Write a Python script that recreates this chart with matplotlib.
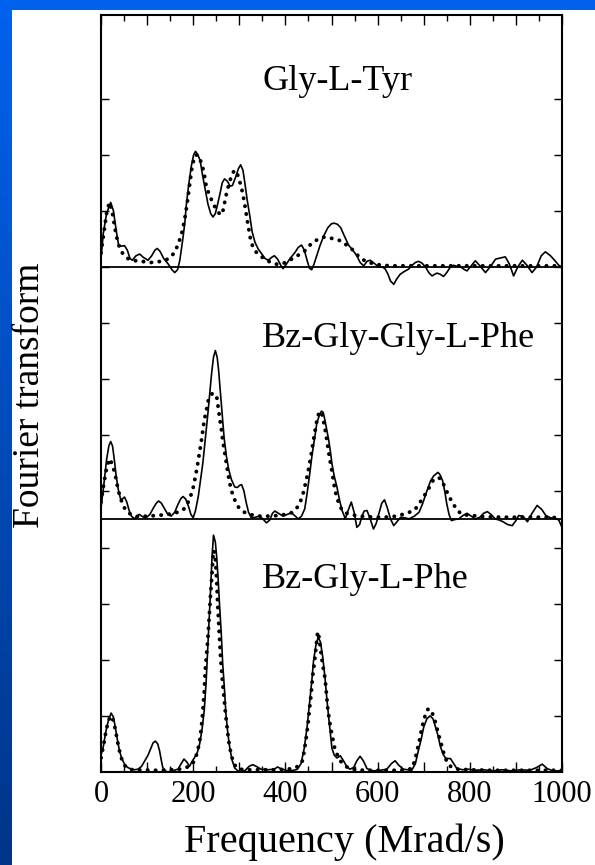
import matplotlib
matplotlib.use("Agg")
import matplotlib.pyplot as plt
import numpy as np
from matplotlib.colors import LinearSegmentedColormap
from matplotlib.patches import Rectangle
from matplotlib.ticker import MultipleLocator, FuncFormatter

plt.rcParams['font.family'] = ['Liberation Serif', 'DejaVu Serif']

# (frequency in Mrad/s, height above the trace's own baseline in tick units)
tyr_exp = [(0, 0.15), (5, 0.6), (12, 0.95), (21, 1.15), (27, 1.0), (33, 0.65), (38, 0.4), (44, 0.37),
           (51, 0.38), (57, 0.3), (63, 0.15), (68, 0.12), (76, 0.2), (84, 0.23), (92, 0.17), (102, 0.12),
           (110, 0.2), (117, 0.3), (122, 0.33), (128, 0.28), (136, 0.15), (146, 0.05), (154, -0.05),
           (160, -0.1), (166, -0.05), (171, 0.12), (175, 0.35), (178, 0.53), (182, 0.8), (185, 1.1),
           (190, 1.45), (196, 1.8), (201, 2.0), (205, 2.06), (210, 2.0), (215, 1.9), (220, 1.65),
           (226, 1.38), (232, 1.12), (238, 0.95), (243, 0.89), (248, 0.95), (253, 1.12), (258, 1.3),
           (263, 1.5), (268, 1.57), (274, 1.53), (280, 1.44), (285, 1.45), (292, 1.6), (298, 1.75),
           (303, 1.82), (308, 1.72), (312, 1.5), (317, 1.2), (323, 0.9), (328, 0.62), (334, 0.44),
           (341, 0.32), (348, 0.24), (356, 0.15), (363, 0.12), (370, 0.17), (376, 0.2), (383, 0.14),
           (390, 0.03), (395, -0.03), (402, 0.05), (410, 0.15), (420, 0.25), (428, 0.35), (435, 0.39),
           (441, 0.3), (447, 0.12), (452, -0.02), (457, -0.05), (462, 0.05), (468, 0.2), (475, 0.38),
           (483, 0.55), (492, 0.7), (500, 0.77), (506, 0.78), (513, 0.76), (520, 0.7), (528, 0.55),
           (537, 0.39), (546, 0.3), (555, 0.2), (562, 0.08), (570, 0.02), (577, 0.1), (584, 0.12),
           (592, 0.07), (602, 0.0), (610, 0.0), (616, -0.03), (622, -0.12), (628, -0.25), (635, -0.31),
           (641, -0.22), (649, -0.13), (658, -0.08), (667, -0.04), (675, 0.03), (682, 0.08), (689, 0.1),
           (696, 0.07), (704, 0.0), (711, -0.1), (718, -0.16), (724, -0.13), (729, -0.11), (736, -0.13),
           (743, -0.17), (750, -0.1), (758, 0.0), (765, 0.03), (772, 0.01), (780, 0.0), (787, -0.04),
           (794, -0.07), (803, 0.02), (812, 0.11), (822, 0.02), (834, -0.1), (844, 0.0), (856, 0.14),
           (866, 0.16), (877, 0.18), (886, 0.05), (895, -0.16), (904, 0.0), (914, 0.12), (924, 0.03),
           (935, -0.1), (945, 0.0), (955, 0.2), (964, 0.27), (975, 0.2), (986, 0.1), (993, 0.03),
           (1000, 0.0)]

tyr_sim = [(0, 0.25), (6, 0.6), (12, 0.95), (18, 1.15), (24, 1.0), (28, 0.8), (33, 0.56), (40, 0.35),
           (47, 0.24), (56, 0.16), (66, 0.12), (76, 0.11), (87, 0.1), (98, 0.09), (109, 0.08), (120, 0.09),
           (130, 0.1), (142, 0.13), (152, 0.18), (160, 0.27), (165, 0.36), (170, 0.47), (174, 0.56),
           (179, 0.75), (183, 0.92), (188, 1.2), (192, 1.45), (197, 1.75), (203, 1.98), (209, 2.0),
           (214, 1.93), (219, 1.83), (224, 1.65), (228, 1.45), (234, 1.3), (239, 1.21), (245, 1.1),
           (252, 1.0), (257, 0.95), (262, 0.93), (266, 1.05), (269, 1.19), (274, 1.37), (279, 1.52),
           (284, 1.64), (289, 1.72), (294, 1.7), (300, 1.55), (305, 1.4), (310, 1.2), (315, 0.95),
           (320, 0.7), (325, 0.46), (330, 0.35), (336, 0.27), (345, 0.2), (354, 0.15), (366, 0.09),
           (379, 0.05), (389, 0.05), (397, 0.07), (408, 0.11), (419, 0.17), (430, 0.22), (440, 0.27),
           (450, 0.36), (458, 0.43), (470, 0.49), (481, 0.53), (490, 0.53), (500, 0.51), (512, 0.49),
           (524, 0.45), (534, 0.38), (544, 0.32), (554, 0.23), (564, 0.15), (575, 0.1), (586, 0.07),
           (597, 0.05), (608, 0.03), (630, 0.02), (700, 0.02), (800, 0.02), (900, 0.02), (1000, 0.02)]

ggphe_exp = [(0, 0.2), (6, 0.6), (12, 1.05), (17, 1.3), (21, 1.38), (25, 1.3), (29, 1.05), (33, 0.76),
             (38, 0.5), (43, 0.34), (47, 0.36), (51, 0.39), (56, 0.3), (61, 0.15), (66, 0.05), (73, 0.0),
             (78, 0.05), (83, 0.08), (90, 0.04), (98, 0.02), (106, 0.08), (114, 0.2), (120, 0.28),
             (125, 0.32), (131, 0.28), (138, 0.18), (145, 0.08), (152, 0.05), (160, 0.12), (167, 0.26),
             (173, 0.36), (178, 0.4), (184, 0.35), (190, 0.22), (195, 0.08), (200, 0.02), (205, 0.15),
             (211, 0.4), (216, 0.7), (221, 1.0), (226, 1.4), (232, 1.89), (236, 2.25), (240, 2.6),
             (244, 2.88), (248, 3.0), (252, 2.88), (255, 2.66), (259, 2.25), (263, 1.83), (267, 1.45),
             (272, 1.12), (277, 0.88), (283, 0.7), (290, 0.57), (296, 0.56), (301, 0.6), (305, 0.61),
             (310, 0.5), (315, 0.29), (320, 0.12), (326, 0.02), (335, 0.03), (344, 0.05), (351, 0.0),
             (359, -0.07), (366, -0.02), (372, 0.1), (377, 0.14), (385, 0.1), (395, 0.05), (404, 0.08),
             (413, 0.11), (420, 0.06), (428, 0.0), (435, 0.05), (442, 0.18), (447, 0.45), (453, 0.82),
             (458, 1.15), (464, 1.47), (468, 1.7), (473, 1.83), (478, 1.92), (482, 1.9), (486, 1.75),
             (490, 1.58), (494, 1.4), (498, 1.18), (501, 0.98), (506, 0.76), (512, 0.56), (517, 0.35),
             (523, 0.15), (530, 0.0), (536, 0.15), (543, 0.3), (549, 0.12), (555, -0.15), (561, -0.1),
             (566, 0.05), (571, 0.14), (577, 0.15), (584, 0.0), (591, -0.18), (597, -0.08), (603, 0.1),
             (609, 0.28), (615, 0.34), (621, 0.2), (628, 0.0), (635, -0.12), (642, -0.05), (650, 0.03),
             (659, 0.02), (668, 0.0), (680, 0.05), (690, 0.12), (698, 0.28), (707, 0.5), (715, 0.68),
             (722, 0.77), (731, 0.83), (736, 0.78), (741, 0.68), (746, 0.48), (750, 0.27), (755, 0.08),
             (760, -0.03), (768, -0.01), (776, 0.0), (785, 0.06), (794, 0.1), (803, 0.05), (812, 0.0),
             (822, 0.03), (830, 0.1), (838, 0.13), (846, 0.08), (855, 0.0), (864, -0.02), (872, -0.05),
             (882, -0.1), (892, -0.12), (900, -0.03), (906, 0.06), (915, 0.05), (925, -0.05), (935, 0.1),
             (946, 0.24), (956, 0.17), (965, 0.06), (975, 0.02), (985, 0.01), (993, -0.02), (1000, -0.15)]

ggphe_sim = [(0, 0.3), (6, 0.62), (12, 0.9), (18, 1.07), (23, 1.0), (28, 0.87), (33, 0.7), (37, 0.52),
             (42, 0.38), (46, 0.28), (52, 0.18), (59, 0.11), (70, 0.06), (81, 0.04), (100, 0.05),
             (120, 0.06), (145, 0.08), (167, 0.12), (178, 0.16), (185, 0.23), (192, 0.35), (199, 0.52),
             (204, 0.72), (209, 0.94), (213, 1.15), (217, 1.35), (221, 1.58), (224, 1.76), (229, 1.95),
             (233, 2.12), (238, 2.2), (242, 2.24), (247, 2.22), (251, 2.18), (254, 2.0), (257, 1.82),
             (261, 1.6), (264, 1.4), (268, 1.2), (272, 0.99), (276, 0.78), (281, 0.57), (285, 0.45),
             (290, 0.34), (299, 0.2), (307, 0.14), (315, 0.1), (328, 0.07), (340, 0.05), (362, 0.05),
             (384, 0.06), (400, 0.08), (413, 0.11), (421, 0.16), (428, 0.23), (434, 0.34), (439, 0.47),
             (445, 0.68), (450, 0.88), (456, 1.15), (461, 1.41), (466, 1.65), (470, 1.83), (475, 1.92),
             (480, 1.85), (485, 1.65), (490, 1.4), (494, 1.18), (498, 0.98), (502, 0.8), (505, 0.63),
             (510, 0.43), (516, 0.27), (522, 0.17), (527, 0.12), (540, 0.08), (553, 0.06), (575, 0.04),
             (596, 0.03), (615, 0.03), (632, 0.04), (646, 0.06), (658, 0.09), (669, 0.12), (679, 0.15),
             (688, 0.24), (697, 0.36), (705, 0.46), (712, 0.56), (720, 0.68), (730, 0.74), (736, 0.72),
             (741, 0.65), (747, 0.55), (752, 0.45), (759, 0.34), (766, 0.24), (774, 0.15), (781, 0.09),
             (793, 0.07), (806, 0.06), (830, 0.04), (870, 0.03), (920, 0.03), (960, 0.03), (1000, 0.02)]

gphe_exp = [(0, 0.3), (5, 0.45), (10, 0.7), (16, 0.92), (22, 1.05), (27, 0.98), (31, 0.8), (35, 0.6),
            (40, 0.38), (45, 0.24), (51, 0.14), (58, 0.08), (66, 0.05), (73, 0.04), (80, 0.05), (88, 0.1),
            (95, 0.2), (102, 0.3), (108, 0.42), (113, 0.52), (118, 0.55), (123, 0.5), (127, 0.38),
            (131, 0.2), (134, 0.08), (140, 0.02), (145, 0.0), (155, 0.02), (167, 0.05), (174, 0.15),
            (180, 0.23), (186, 0.18), (192, 0.1), (197, 0.18), (203, 0.26), (209, 0.35), (214, 0.5),
            (219, 0.75), (224, 1.1), (228, 1.6), (231, 2.1), (235, 2.75), (238, 3.3), (241, 3.85),
            (244, 4.22), (248, 4.1), (251, 3.83), (254, 3.45), (257, 3.0), (261, 2.45), (264, 1.93),
            (268, 1.45), (271, 1.04), (275, 0.7), (279, 0.45), (284, 0.22), (290, 0.07), (297, 0.02),
            (304, 0.0), (313, 0.03), (321, 0.1), (329, 0.13), (337, 0.1), (347, 0.05), (362, 0.04),
            (376, 0.05), (383, 0.09), (390, 0.06), (405, 0.02), (418, 0.03), (426, 0.05), (434, 0.15),
            (441, 0.43), (447, 0.8), (452, 1.2), (457, 1.6), (461, 1.98), (466, 2.25), (471, 2.4),
            (476, 2.32), (481, 2.05), (486, 1.67), (490, 1.3), (494, 0.96), (498, 0.65), (501, 0.42),
            (506, 0.3), (512, 0.25), (519, 0.29), (526, 0.2), (533, 0.1), (540, 0.05), (548, 0.08),
            (555, 0.2), (562, 0.28), (569, 0.2), (577, 0.06), (590, 0.02), (606, 0.03), (620, 0.05),
            (630, 0.15), (638, 0.2), (646, 0.12), (656, 0.05), (674, 0.03), (682, 0.15), (689, 0.4),
            (695, 0.6), (700, 0.8), (707, 0.95), (714, 1.0), (720, 0.95), (725, 0.82), (731, 0.65),
            (736, 0.46), (742, 0.32), (747, 0.25), (752, 0.24), (758, 0.24), (765, 0.15), (772, 0.06),
            (785, 0.04), (797, 0.05), (810, 0.03), (830, 0.04), (850, 0.02), (870, 0.04), (890, 0.02),
            (910, 0.04), (930, 0.03), (945, 0.08), (957, 0.14), (968, 0.06), (980, 0.02), (1000, 0.02)]

gphe_sim = [(0, 0.25), (6, 0.5), (12, 0.78), (18, 0.95), (23, 1.0), (28, 0.88), (33, 0.67), (37, 0.5),
            (40, 0.38), (46, 0.2), (53, 0.1), (62, 0.05), (75, 0.03), (88, 0.04), (110, 0.03), (130, 0.03),
            (150, 0.04), (170, 0.05), (185, 0.08), (195, 0.12), (203, 0.2), (209, 0.35), (214, 0.55),
            (218, 0.82), (221, 1.1), (224, 1.45), (226, 1.8), (229, 2.1), (232, 2.4), (235, 2.8),
            (238, 3.2), (241, 3.55), (243, 3.85), (245, 3.95), (248, 3.8), (251, 3.4), (253, 3.0),
            (256, 2.55), (259, 2.1), (262, 1.75), (266, 1.4), (270, 1.05), (274, 0.76), (277, 0.55),
            (281, 0.37), (286, 0.2), (292, 0.1), (300, 0.05), (320, 0.04), (350, 0.04), (380, 0.04),
            (405, 0.05), (420, 0.07), (431, 0.12), (437, 0.2), (441, 0.38), (445, 0.6), (449, 0.85),
            (452, 1.1), (456, 1.4), (459, 1.7), (463, 1.95), (466, 2.18), (470, 2.5), (473, 2.4),
            (476, 2.2), (481, 1.9), (486, 1.67), (489, 1.4), (492, 1.12), (496, 0.9), (500, 0.7),
            (504, 0.55), (507, 0.42), (512, 0.32), (516, 0.24), (521, 0.18), (527, 0.13), (535, 0.08),
            (545, 0.05), (570, 0.03), (610, 0.03), (650, 0.03), (675, 0.06), (682, 0.25), (689, 0.5),
            (693, 0.65), (696, 0.8), (700, 0.9), (703, 1.0), (707, 1.1), (711, 1.13), (717, 1.08),
            (721, 1.0), (725, 0.9), (728, 0.8), (732, 0.68), (736, 0.55), (740, 0.45), (743, 0.35),
            (747, 0.26), (750, 0.18), (756, 0.12), (761, 0.08), (775, 0.05), (800, 0.04), (850, 0.03),
            (900, 0.03), (950, 0.03), (1000, 0.03)]

names = ['Gly-L-Tyr', 'Bz-Gly-Gly-L-Phe', 'Bz-Gly-L-Phe']
baselines = [9.0, 4.51, 0.0]
label_y = [12.16, 7.58, 3.28]
experiments = [tyr_exp, ggphe_exp, gphe_exp]
simulations = [tyr_sim, ggphe_sim, gphe_sim]
x_ticks = [0, 100, 200, 300, 400, 500, 600, 700, 800, 900, 1000]

fig = plt.figure(figsize=(5.95, 8.65), dpi=100)

# blue slide background with white page
bg = fig.add_axes([0, 0, 1, 1], zorder=-10)
blue = LinearSegmentedColormap.from_list('slide', ['#003588', '#0062EE'])
bg.imshow(np.linspace(0, 1, 256).reshape(-1, 1), cmap=blue, origin='lower',
          aspect='auto', extent=[0, 1, 0, 1])
bg.add_patch(Rectangle((12 / 595, 0), 1, 855 / 865, color='white', lw=0))
bg.set_xlim(0, 1)
bg.set_ylim(0, 1)
bg.axis('off')

ax = fig.add_axes([101 / 595, 93 / 865, 461 / 595, 757 / 865])
ax.set_facecolor('white')

for base, exp, sim in zip(baselines, experiments, simulations):
    ex, ey = np.array(exp).T
    sx, sy = np.array(sim).T
    if base > 0:
        ax.axhline(base, color='black', lw=1.3)
    ax.plot(ex, ey + base, color='black', lw=1.2, solid_joinstyle='round')
    ax.plot(sx, sy + base, color='black', lw=2.8, linestyle=(0, (0.05, 2.0)),
            dash_capstyle='round')

for name, ly in zip(names, label_y):
    ax.text(350, ly, name, fontsize=26, ha='left', va='baseline')

ax.set_xlim(0, 1000)
ax.set_ylim(0, 13.49)
ax.set_xticks(x_ticks)
ax.xaxis.set_major_formatter(FuncFormatter(lambda v, p: f'{int(v)}' if int(v) % 200 == 0 else ''))
ax.xaxis.set_minor_locator(MultipleLocator(50))
ax.set_yticks(np.arange(1, 13))
ax.set_yticklabels([])
ax.tick_params(which='both', direction='in', top=True, right=True, width=1.0)
ax.tick_params(axis='x', which='major', length=7, labelsize=22, pad=6)
ax.tick_params(axis='x', which='minor', length=4)
ax.tick_params(axis='y', which='major', length=5.5)
for s in ax.spines.values():
    s.set_linewidth(1.5)

ax.set_xlabel('Frequency (Mrad/s)', fontsize=29)
ax.xaxis.set_label_coords(0.529, -0.0925)
ax.xaxis.label.set_va('center')
ax.set_ylabel('Fourier transform', fontsize=27)
ax.yaxis.set_label_coords(-0.154, 0.498)
ax.yaxis.label.set_va('center')

fig.savefig('out.png', dpi=100)
